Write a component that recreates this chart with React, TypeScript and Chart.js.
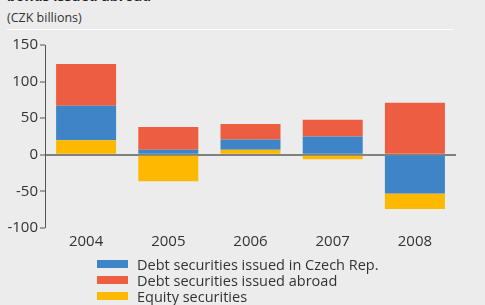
import React, { useEffect, useRef } from "react";
import { Chart, registerables } from "chart.js";

Chart.register(...registerables);

const years = ["2004", "2005", "2006", "2007", "2008"];
const debtCzech = [47, 7, 14, 25, -53];
const debtAbroad = [57, 31, 21, 23, 71];
const equity = [20, -36, 7, -6, -21];

const seriesLabels = [
  "Debt securities issued in Czech Rep.",
  "Debt securities issued abroad",
  "Equity securities",
];
const colors = ["#3D85C6", "#EC5D41", "#FDB900"];

const FONT = "'Open Sans', sans-serif";

export default function App() {
  const ref = useRef<HTMLCanvasElement | null>(null);

  useEffect(() => {
    if (!ref.current) return;
    const equityPos = equity.map((v) => (v >= 0 ? v : null));
    const equityNeg = equity.map((v) => (v < 0 ? v : null));
    const common = { barPercentage: 0.73, categoryPercentage: 1, borderWidth: 0 };
    const chart = new Chart(ref.current, {
      type: "bar",
      data: {
        labels: years,
        datasets: [
          { label: seriesLabels[2], data: equityPos, backgroundColor: colors[2], order: 0, ...common },
          { label: seriesLabels[0], data: debtCzech, backgroundColor: colors[0], order: 1, ...common },
          { label: seriesLabels[1], data: debtAbroad, backgroundColor: colors[1], order: 2, ...common },
          { label: seriesLabels[2], data: equityNeg, backgroundColor: colors[2], order: 3, ...common },
        ],
      },
      options: {
        animation: false,
        responsive: false,
        maintainAspectRatio: false,
        layout: { padding: { left: 0, right: 29, top: 45, bottom: 47 } },
        plugins: { legend: { display: false }, tooltip: { enabled: false }, title: { display: false } },
        scales: {
          x: {
            stacked: true,
            grid: { display: false, drawTicks: false },
            border: { display: false },
            ticks: { font: { family: FONT, size: 15 }, color: "#333", padding: 5 },
            afterFit: (s: any) => {
              s.height = 30;
            },
          },
          y: {
            stacked: true,
            min: -100,
            max: 150,
            ticks: {
              stepSize: 50,
              font: { family: FONT, size: 15 },
              color: "#333",
              padding: 2,
            },
            grid: {
              drawOnChartArea: true,
              color: (ctx: any) => (ctx.tick && ctx.tick.value === 0 ? "#808080" : "rgba(0,0,0,0)"),
              lineWidth: (ctx: any) => (ctx.tick && ctx.tick.value === 0 ? 2 : 0),
              tickColor: "#555",
              tickWidth: 1,
              tickLength: 5,
            },
            border: { display: true, color: "#555", width: 1 },
            afterFit: (s: any) => {
              s.width = 45;
            },
          },
        },
      },
    });
    return () => chart.destroy();
  }, []);

  const legendIdx = [0, 1, 2];

  return (
    <div
      style={{
        position: "fixed",
        left: 0,
        top: 0,
        width: 485,
        height: 305,
        overflow: "hidden",
        background: "#ECECEC",
        fontFamily: FONT,
      }}
    >
      <div
        style={{
          position: "absolute",
          left: 7,
          top: -11,
          fontSize: 14,
          lineHeight: "14px",
          fontWeight: 700,
          color: "#222",
          whiteSpace: "nowrap",
        }}
      >
        bonds issued abroad
      </div>
      <div
        style={{
          position: "absolute",
          left: 7,
          top: 10,
          fontSize: 12.5,
          lineHeight: "16px",
          color: "#333",
          whiteSpace: "nowrap",
        }}
      >
        (CZK billions)
      </div>
      <div
        style={{
          position: "absolute",
          left: 7,
          top: 29,
          width: 446,
          height: 1,
          background: "#FFFFFF",
        }}
      />
      <canvas ref={ref} width={485} height={305} style={{ position: "absolute", left: 0, top: 0 }} />
      <div style={{ position: "absolute", left: 97, top: 256 }}>
        {legendIdx.map((i) => (
          <div
            key={i}
            style={{ display: "flex", alignItems: "center", height: 16, fontSize: 14.5, color: "#333", whiteSpace: "nowrap" }}
          >
            <span style={{ display: "inline-block", width: 31, height: 8, background: colors[i], marginRight: 9 }} />
            <span>{seriesLabels[i]}</span>
          </div>
        ))}
      </div>
    </div>
  );
}
